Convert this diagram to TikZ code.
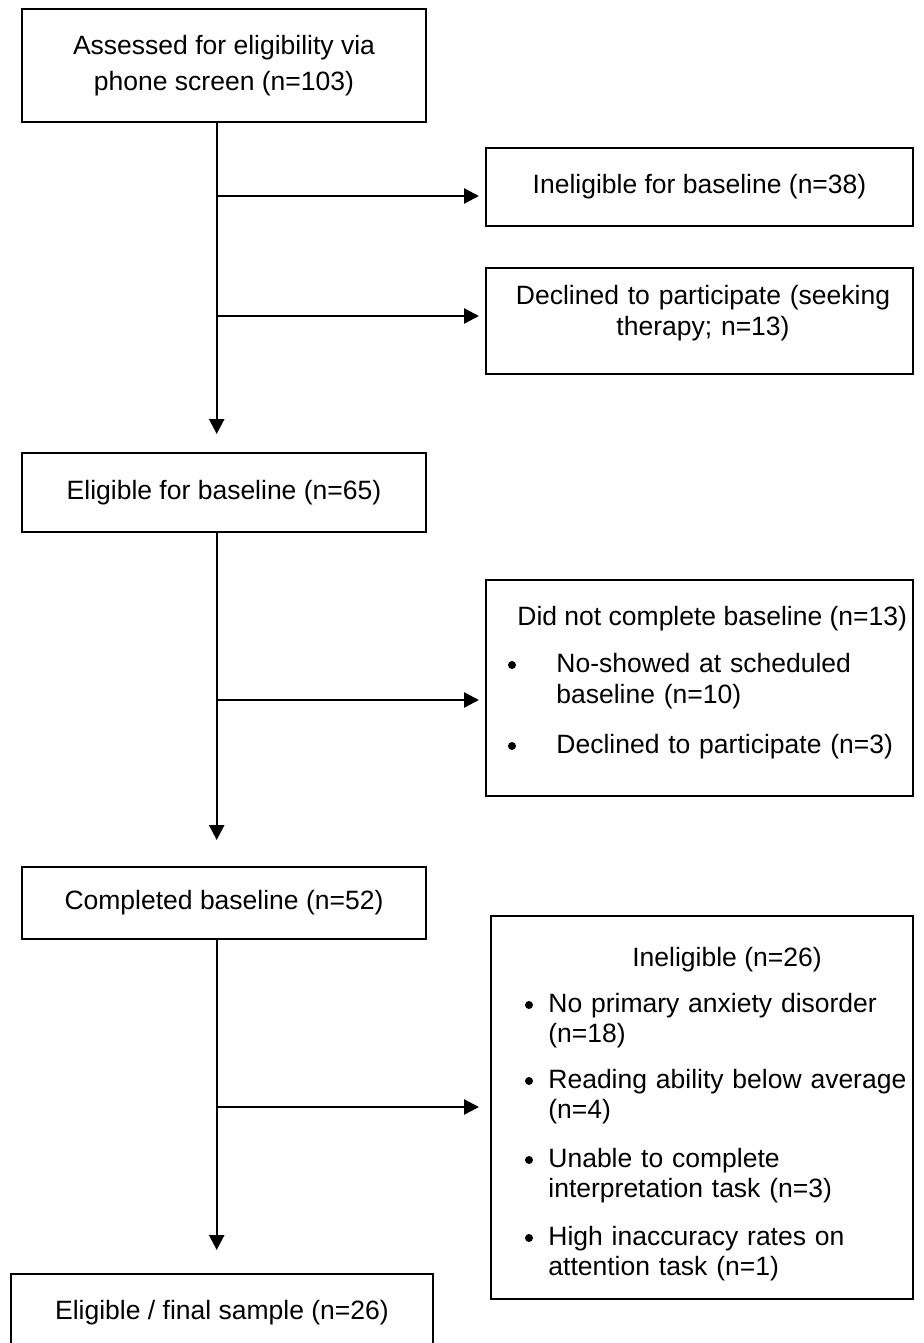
\documentclass[tikz,border=0pt]{standalone}
\usepackage{fontspec}
\setmainfont{Liberation Sans}
\usetikzlibrary{arrows.meta}
\newcommand\flowfont{\fontsize{13.25}{15}\selectfont}
\begin{document}
    \begin{tikzpicture}
        [x=0.5pt,y=-0.5pt,
        every node/.style={inner sep=0pt,font=\flowfont},
        box/.style={rectangle,draw,line width=1pt},
        txt/.style={align=left,text width=#1},
        dot/.style={circle,fill,minimum size=4pt},
        flow/.style={line width=1.2pt,-{Triangle[length=7.5pt,width=7.5pt]}}]
        \useasboundingbox (0,0) rectangle (924,1343);
        \node[box,minimum width=202pt,minimum height=56.5pt,align=center] (assess) at (224,65.5)
            {Assessed for eligibility via\\[3.3pt]phone screen (n=103)};
        \node[box,minimum width=213.5pt,minimum height=39pt] (inel) at (699.5,187)
            {Ineligible for baseline (n=38)};
        \node[box,minimum width=213.5pt,minimum height=53pt] (decl) at (699.5,321) {};
        \node[txt=200pt,align=center,anchor=base] (decltxt) at (703,304)
            {Declined to participate (seeking\\[0.5pt]therapy; n=13)};
        \node[box,minimum width=202pt,minimum height=39.5pt] (elig) at (224,492.5)
            {Eligible for baseline (n=65)};
        \node[box,minimum width=213.5pt,minimum height=108pt] (nocomp) at (699.5,688) {};
        \node[anchor=base west] (nocomphd) at (517,625) {Did not complete baseline (n=13)};
        \node[dot] (nb1) at (512,665) {};
        \node[txt=180pt,anchor=base west] (ni1) at (556,672) {No-showed at scheduled\\[0.5pt]baseline (n=10)};
        \node[dot] (nb2) at (512,746) {};
        \node[txt=180pt,anchor=base west] (ni2) at (556,753) {Declined to participate (n=3)};
        \node[box,minimum width=202pt,minimum height=36pt] (comp) at (224,903)
            {Completed baseline (n=52)};
        \node[box,minimum width=211pt,minimum height=191.5pt] (inel2) at (702,1107.5) {};
        \node[anchor=base] (inel2hd) at (727,966) {Ineligible (n=26)};
        \node[dot] (ib1) at (529,1005) {};
        \node[txt=185pt,anchor=base west] (ii1) at (548,1012) {No primary anxiety disorder\\(n=18)};
        \node[dot] (ib2) at (529,1081) {};
        \node[txt=185pt,anchor=base west] (ii2) at (548,1088) {Reading ability below average\\(n=4)};
        \node[dot] (ib3) at (529,1160) {};
        \node[txt=185pt,anchor=base west] (ii3) at (548,1167) {Unable to complete\\interpretation task (n=3)};
        \node[dot] (ib4) at (529,1238) {};
        \node[txt=185pt,anchor=base west] (ii4) at (548,1245) {High inaccuracy rates on\\attention task (n=1)};
        \node[box,minimum width=211pt,minimum height=38.5pt] (final) at (222,1312.5)
            {Eligible / final sample (n=26)};
        \coordinate (s) at (216.7,0);
        \coordinate (j1) at (216.7,196);
        \coordinate (j2) at (216.7,316);
        \coordinate (j3) at (216.7,700);
        \coordinate (j4) at (216.7,1107);
        \draw[flow,shorten >=9pt] (assess.south -| s) -- (elig.north -| s);
        \draw[flow,shorten >=3pt] (j1) -- (j1 -| inel.west);
        \draw[flow,shorten >=3pt] (j2) -- (j2 -| decl.west);
        \draw[flow,shorten >=13pt] (elig.south -| s) -- (comp.north -| s);
        \draw[flow,shorten >=3pt] (j3) -- (j3 -| nocomp.west);
        \draw[flow,shorten >=11.5pt] (comp.south -| s) -- (final.north -| s);
        \draw[flow,shorten >=5.5pt] (j4) -- (j4 -| inel2.west);
    \end{tikzpicture}
\end{document}
